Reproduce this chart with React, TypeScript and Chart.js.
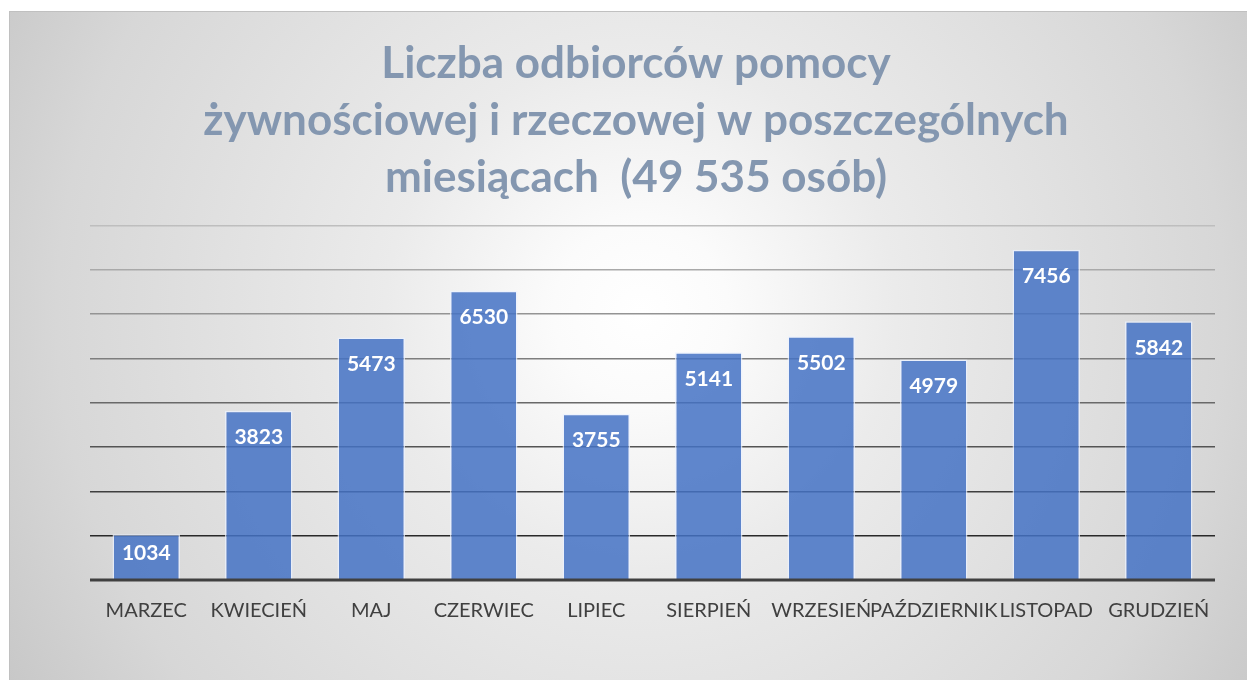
import React, { useEffect, useRef } from "react";
import { Chart, registerables } from "chart.js";

Chart.register(...registerables);

const months = [
  "MARZEC",
  "KWIECIEŃ",
  "MAJ",
  "CZERWIEC",
  "LIPIEC",
  "SIERPIEŃ",
  "WRZESIEŃ",
  "PAŹDZIERNIK",
  "LISTOPAD",
  "GRUDZIEŃ",
];
const recipients = [1034, 3823, 5473, 6530, 3755, 5141, 5502, 4979, 7456, 5842];
const titleLines = [
  "Liczba odbiorców pomocy",
  "żywnościowej i rzeczowej w poszczególnych",
  "miesiącach  (49 535 osób)",
];
const yMax = 8000;
const yStep = 1000;

const W = 1237;
const H = 668;

const valueLabels = {
  id: "valueLabels",
  afterDatasetsDraw(chart: any) {
    const { ctx } = chart;
    const meta = chart.getDatasetMeta(0);
    ctx.save();
    ctx.fillStyle = "#ffffff";
    ctx.font = "bold 21px Lato";
    ctx.textAlign = "center";
    ctx.textBaseline = "middle";
    meta.data.forEach((bar: any, i: number) => {
      const h = bar.base - bar.y;
      const off = Math.min(27, h / 2 - 3);
      ctx.fillText(String(recipients[i]), bar.x, bar.y + off);
    });
    ctx.restore();
  },
};

const baseline = {
  id: "baseline",
  afterDatasetsDraw(chart: any) {
    const { ctx, chartArea } = chart;
    const y = chart.scales.y.getPixelForValue(0);
    ctx.save();
    ctx.strokeStyle = "#404040";
    ctx.lineWidth = 3;
    ctx.beginPath();
    ctx.moveTo(chartArea.left, y);
    ctx.lineTo(chartArea.right, y);
    ctx.stroke();
    ctx.restore();
  },
};

function gridColor(v: number) {
  if (v === 0) return "rgba(0,0,0,0)";
  const t = v / yMax;
  const c = Math.round(20 + t * 170);
  return `rgb(${c},${c},${c})`;
}

export default function App() {
  const ref = useRef<HTMLCanvasElement | null>(null);

  useEffect(() => {
    if (!ref.current) return;
    Chart.defaults.font.family = "Lato";
    const chart = new Chart(ref.current, {
      type: "bar",
      data: {
        labels: months,
        datasets: [
          {
            data: recipients,
            backgroundColor: "rgba(68,114,196,0.85)",
            borderColor: "rgba(235,242,255,0.75)",
            borderWidth: 1.5,
            borderSkipped: "bottom",
            barPercentage: 0.6,
            categoryPercentage: 1,
          },
        ],
      },
      options: {
        responsive: false,
        animation: false,
        layout: { padding: { left: 47, right: 32, top: 0, bottom: 46 } },
        plugins: {
          legend: { display: false },
          tooltip: { enabled: false },
          title: {
            display: true,
            text: titleLines,
            color: "#8497b0",
            font: { family: "Lato", size: 44, weight: "bold", lineHeight: 1.3 },
            padding: { top: 23, bottom: 19 },
          },
        },
        scales: {
          x: {
            grid: { display: false },
            border: { display: false },
            ticks: {
              color: "#404040",
              font: { family: "Lato", size: 20 },
              autoSkip: false,
              maxRotation: 0,
              minRotation: 0,
              padding: 11,
            },
          },
          y: {
            min: 0,
            max: yMax,
            afterFit(scale: any) {
              scale.width = 33;
            },
            ticks: { display: false, stepSize: yStep },
            border: { display: false },
            grid: {
              drawTicks: false,
              color: (c: any) => gridColor(c.tick ? c.tick.value : 0),
              lineWidth: 1.5,
            },
          },
        },
      },
      plugins: [valueLabels, baseline],
    });
    return () => chart.destroy();
  }, []);

  return (
    <div
      style={{
        position: "absolute",
        left: 9,
        top: 11,
        width: W,
        height: H,
        borderTop: "1px solid #c0c0c0",
        borderLeft: "1px solid #c0c0c0",
        background:
          "radial-gradient(circle farthest-corner at 51% 45%, #ffffff 0%, #fbfbfb 12%, #ebebeb 35%, #d7d7d7 80%, #c8c8c8 100%)",
        overflow: "hidden",
      }}
    >
      <canvas ref={ref} width={W} height={H} style={{ display: "block", width: W, height: H }} />
    </div>
  );
}
